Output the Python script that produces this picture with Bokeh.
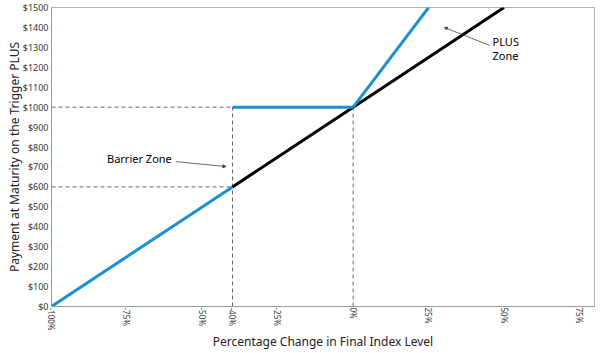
from bokeh.plotting import figure
from bokeh.models import Range1d, FixedTicker, Label, Arrow, NormalHead
from bokeh.embed import file_html
from bokeh.resources import INLINE

# Data
pct_ticks = [-100, -75, -50, -40, -25, 0, 25, 50, 75]
pct_labels = ["-100%", "-75%", "-50%", "-40%", "-25%", "0%", "25%", "50%", "75%"]
pay_ticks = list(range(0, 1600, 100))
pay_labels = ["$" + str(v) for v in pay_ticks]

index_x = [-40, 0, 50]
index_y = [600, 1000, 1500]

below_barrier_x = [-100, -40]
below_barrier_y = [0, 600]
barrier_zone_x = [-40, 0]
barrier_zone_y = [1000, 1000]
plus_zone_x = [0, 25]
plus_zone_y = [1000, 1500]

guide_h1000_x = [-100, 0]
guide_h1000_y = [1000, 1000]
guide_h600_x = [-100, -40]
guide_h600_y = [600, 600]
guide_v0_x = [0, 0]
guide_v0_y = [0, 1000]
guide_v40_x = [-40, -40]
guide_v40_y = [0, 1000]

FONT = "Noto Sans"
BLUE = "#1b8fd2"

p = figure(width=601, height=353, output_backend="svg", toolbar_location=None,
           x_range=Range1d(-100, 80), y_range=Range1d(0, 1500),
           min_border_left=51, min_border_right=7, min_border_top=7, min_border_bottom=47)
p.xgrid.visible = False
p.ygrid.visible = False
p.outline_line_color = "#b0b0b0"
p.background_fill_color = "white"

# guides
for gx, gy in [(guide_h1000_x, guide_h1000_y), (guide_h600_x, guide_h600_y),
               (guide_v0_x, guide_v0_y), (guide_v40_x, guide_v40_y)]:
    p.line(gx, gy, line_color="#666666", line_width=1, line_dash="4 3")

p.line(index_x, index_y, line_color="black", line_width=3)
p.line(below_barrier_x, below_barrier_y, line_color=BLUE, line_width=3)
p.line(barrier_zone_x, barrier_zone_y, line_color=BLUE, line_width=3)
p.line(plus_zone_x, plus_zone_y, line_color=BLUE, line_width=3)

# axes
xa = p.xaxis[0]
xa.ticker = FixedTicker(ticks=pct_ticks)
xa.major_label_overrides = {t: l for t, l in zip(pct_ticks, pct_labels)}
xa.major_label_orientation = "vertical"
xa.major_label_text_font = FONT
xa.major_label_text_font_size = "8px"
xa.major_label_text_color = "#333333"
xa.major_label_standoff = 1
xa.major_tick_line_color = None
xa.major_tick_out = 0
xa.major_tick_in = 0
xa.minor_tick_line_color = None
xa.minor_tick_out = 0
xa.axis_line_color = "#999999"
xa.axis_label = "Percentage Change in Final Index Level"
xa.axis_label_text_font = FONT
xa.axis_label_text_font_size = "12px"
xa.axis_label_text_font_style = "normal"
xa.axis_label_text_color = "#222222"
xa.axis_label_standoff = 0

ya = p.yaxis[0]
ya.ticker = FixedTicker(ticks=pay_ticks)
ya.major_label_overrides = {t: l for t, l in zip(pay_ticks, pay_labels)}
ya.major_label_text_font = FONT
ya.major_label_text_font_size = "9px"
ya.major_label_text_color = "#333333"
ya.major_label_standoff = 3
ya.major_tick_line_color = None
ya.major_tick_out = 0
ya.major_tick_in = 0
ya.minor_tick_line_color = None
ya.minor_tick_out = 0
ya.axis_line_color = "#999999"
ya.axis_label = "Payment at Maturity on the Trigger PLUS"
ya.axis_label_text_font = FONT
ya.axis_label_text_font_size = "12px"
ya.axis_label_text_font_style = "normal"
ya.axis_label_text_color = "#222222"
ya.axis_label_standoff = -3

# annotations
p.add_layout(Label(x=-81.6, y=742, text="Barrier Zone", text_font=FONT,
                   text_font_size="11px", text_baseline="middle", text_color="black"))
p.add_layout(Arrow(x_start=-58.8, y_start=727, x_end=-42.2, y_end=702,
                   line_color="#444444", line_width=0.8,
                   end=NormalHead(size=3, fill_color="#444444", line_color="#444444")))
p.add_layout(Label(x=46.2, y=1330, text="PLUS", text_font=FONT,
                   text_font_size="11px", text_baseline="middle", text_color="black"))
p.add_layout(Label(x=46.2, y=1259, text="Zone", text_font=FONT,
                   text_font_size="11px", text_baseline="middle", text_color="black"))
p.add_layout(Arrow(x_start=45.2, y_start=1310, x_end=30.2, y_end=1400,
                   line_color="#444444", line_width=0.8,
                   end=NormalHead(size=3, fill_color="#444444", line_color="#444444")))

open("out.html", "w").write(file_html(p, INLINE))
